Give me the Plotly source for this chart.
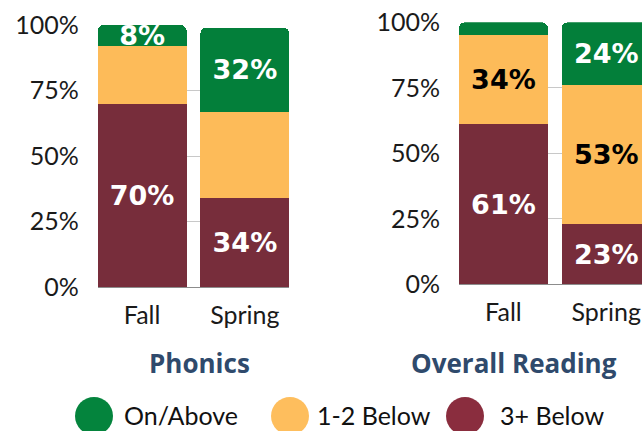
import plotly.graph_objects as go

# ---- data ----
terms = ["Fall", "Spring"]
series_names = ["3+ Below", "1-2 Below", "On/Above"]

phonics_below3 = [70, 34]
phonics_below12 = [22, 33]
phonics_onabove = [8, 32]

reading_below3 = [61, 23]
reading_below12 = [34, 53]
reading_onabove = [5, 24]

# which segment values carry a printed label
phonics_show = {"3+ Below": [True, True], "1-2 Below": [False, False], "On/Above": [True, True]}
reading_show = {"3+ Below": [True, True], "1-2 Below": [True, True], "On/Above": [False, True]}

panel_titles = ["Phonics", "Overall Reading"]
y_ticks = [0, 0.25, 0.5, 0.75, 1.0]
y_tick_labels = ["0%", "25%", "50%", "75%", "100%"]

# ---- style ----
bar_colors = {"3+ Below": "#772D3B", "1-2 Below": "#FDBB59", "On/Above": "#037F3A"}
legend_colors = {"On/Above": "#04843D", "1-2 Below": "#FEBE5D", "3+ Below": "#8A2D3E"}
text_colors = {"3+ Below": "white", "1-2 Below": "black", "On/Above": "white"}

W, H = 642, 431

fig = go.Figure()

panels = [
    ({"3+ Below": phonics_below3, "1-2 Below": phonics_below12, "On/Above": phonics_onabove}, phonics_show, "x", "y"),
    ({"3+ Below": reading_below3, "1-2 Below": reading_below12, "On/Above": reading_onabove}, reading_show, "x2", "y2"),
]

for values, show, xa, ya in panels:
    for name in series_names:
        vals = values[name]
        texts = [f"{v}%" if s else "" for v, s in zip(vals, show[name])]
        fig.add_trace(go.Bar(
            x=terms, y=[v / 100 for v in vals], name=name,
            marker=dict(color=bar_colors[name], line=dict(width=0)),
            text=texts, textposition="inside", insidetextanchor="middle",
            textangle=0, constraintext="none",
            textfont=dict(family="DejaVu Sans", size=27, color=text_colors[name], weight="bold"),
            xaxis=xa, yaxis=ya, showlegend=False, hoverinfo="skip",
        ))

tick_font = dict(family="Lato", size=25, color="#1a1a1a")
common_y = dict(range=[0, 1], tickvals=y_ticks, ticktext=y_tick_labels, showgrid=True,
                gridcolor="#C8C8C8", gridwidth=1, zeroline=True, zerolinecolor="#8c8c8c",
                zerolinewidth=1, tickfont=tick_font, ticks="", ticklabelstandoff=18,
                fixedrange=True, automargin=False)
common_x = dict(type="category", showgrid=False, zeroline=False, showline=False, ticks="",
                tickfont=tick_font, ticklabelstandoff=11, fixedrange=True, automargin=False)

fig.update_layout(
    width=W, height=H,
    margin=dict(l=0, r=0, t=0, b=0, pad=0, autoexpand=False),
    paper_bgcolor="white", plot_bgcolor="white",
    barmode="stack", bargap=0.134, barcornerradius=6,
    uniformtext=dict(minsize=27, mode="show"),
    showlegend=False,
    xaxis=dict(domain=[97.7 / W, 289.3 / W], range=[-0.432, 1.432], anchor="y", **common_x),
    yaxis=dict(domain=[1 - 287.3 / H, 1 - 25 / H], anchor="x", **common_y),
    xaxis2=dict(domain=[459 / W, 1.0], range=[-0.432, 1.348], anchor="y2", **common_x),
    yaxis2=dict(domain=[1 - 284.3 / H, 1 - 22.3 / H], anchor="x2", **common_y),
)

# panel titles
title_pos = [199, 514]
for t, cx in zip(panel_titles, title_pos):
    fig.add_annotation(text=t, x=cx / W, y=1 - 363 / H, xref="paper", yref="paper",
                       xanchor="center", yanchor="middle", showarrow=False,
                       font=dict(family="Open Sans", size=26, color="#2F4A6C", weight="bold"))

# custom legend with large circles
legend_items = ["On/Above", "1-2 Below", "3+ Below"]
circle_cx = [94, 290, 465]
text_x = [122, 315, 498]
r = 19
cy = 416
for name, cx, tx in zip(legend_items, circle_cx, text_x):
    fig.add_shape(type="circle", xref="paper", yref="paper",
                  x0=(cx - r) / W, x1=(cx + r) / W, y0=1 - (cy + r) / H, y1=1 - (cy - r) / H,
                  fillcolor=legend_colors[name], line=dict(width=0))
    fig.add_annotation(text=name, x=tx / W, y=1 - 415 / H, xref="paper", yref="paper",
                       xanchor="left", yanchor="middle", showarrow=False,
                       font=dict(family="Lato", size=25, color="#111111"))

fig.write_html("out.html", config={"displayModeBar": False},
               post_script="document.body.style.margin='0';")
